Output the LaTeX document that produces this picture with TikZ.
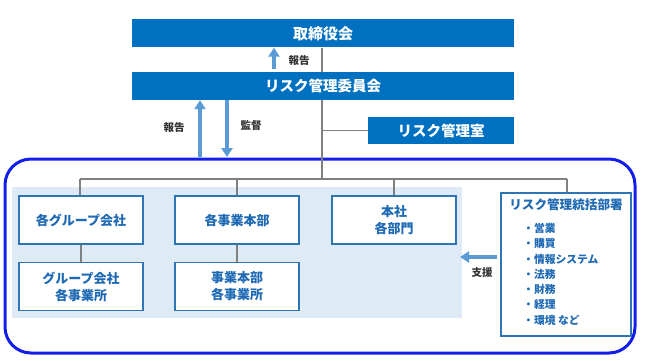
\documentclass[tikz,border=0pt]{standalone}
\usepackage{fontspec}
\setmainfont{Noto Sans CJK JP}
\usetikzlibrary{arrows.meta}
\definecolor{dblue}{RGB}{0,112,192}
\definecolor{bblue}{RGB}{46,117,182}
\definecolor{tblue}{RGB}{31,106,180}
\definecolor{ablue}{RGB}{91,155,213}
\definecolor{lgray}{RGB}{128,128,128}
\definecolor{panel}{RGB}{222,234,246}
\definecolor{frame}{RGB}{20,30,235}
\begin{document}
\begin{tikzpicture}[x=1pt,y=-1pt,
  darkbox/.style={fill=dblue, text=white, font=\bfseries\fontsize{14.5}{17}\selectfont, minimum height=28pt, inner sep=0pt},
  whitebox/.style={draw=bblue, line width=1.4pt, fill=white, text=tblue, font=\bfseries\fontsize{13}{17}\selectfont, align=center, inner sep=0pt, minimum width=124pt, minimum height=48pt},
  gline/.style={draw=lgray, line width=1.2pt},
  barrow/.style={draw=ablue, line width=3.4pt, -{Triangle[length=9pt,width=11pt]}},
  lbl/.style={font=\bfseries\fontsize{10.5}{12}\selectfont, text=black!80, inner sep=0pt}]
\useasboundingbox (0,0) rectangle (645,361);
% frame and panel
\draw[frame, line width=3pt, rounded corners=26pt] (5,159) rectangle (635,353);
\fill[panel] (12,187) rectangle (462,318);
% top boxes
\node[darkbox, minimum width=382pt, font=\bfseries\fontsize{15}{18}\selectfont] (board) at (323,33.5) {取締役会};
\node[darkbox, minimum width=382pt] (committee) at (323,86) {リスク管理委員会};
\node[darkbox, minimum width=146pt, minimum height=27pt] (office) at (441,130.5) {リスク管理室};
% tree lines
\coordinate (hub) at (322,179);
\coordinate (hl) at (80,179);
\coordinate (hr) at (567,179);
\draw[gline] (board.south -| hub) -- (committee.north -| hub);
\draw[gline] (committee.south -| hub) -- (hub);
\draw[gline] (office.west -| hub) -- (office.west);
\draw[gline] (hl) -- (hr);
% lower boxes
\node[whitebox] (grp) at (81,220) {各グループ会社};
\node[whitebox] (grpsub) at (81,286.5) {グループ会社\\各事業所};
\node[whitebox] (div) at (237,220) {各事業本部};
\node[whitebox] (divsub) at (237,286.5) {事業本部\\各事業所};
\node[whitebox] (hq) at (394,220) {本社\\各部門};
\node[whitebox, minimum width=130pt, minimum height=143pt] (rm) at (566,264.5) {};
\node[text=tblue, font=\bfseries\fontsize{12.6}{15}\selectfont, inner sep=0pt] (rmtitle) at (566,205) {リスク管理統括部署};
\node[text=tblue, font=\bfseries\fontsize{10.8}{15.3}\selectfont, align=left, anchor=north west, inner sep=0pt] (rmlist) at (523,223) {・営業\\・購買\\・情報システム\\・法務\\・財務\\・経理\\・環境 など};
\draw[gline] (hl) -- (grp.north -| hl);
\draw[gline] (div.north |- hl) -- (div.north);
\draw[gline] (hq.north |- hl) -- (hq.north);
\draw[gline] (hr) -- (rm.north -| hr);
\draw[gline] (grp) -- (grpsub);
\draw[gline] (div) -- (divsub);
% arrows
\coordinate (a1s) at (274,69);
\draw[barrow] (a1s) -- (board.south -| a1s);
\node[lbl] (l1) at (299,61) {報告};
\coordinate (a2s) at (200,157);
\draw[barrow] (a2s) -- (committee.south -| a2s);
\node[lbl] (l2) at (174,128) {報告};
\coordinate (a3e) at (227,157);
\draw[barrow] (committee.south -| a3e) -- (a3e);
\node[lbl] (l3) at (251,126) {監督};
\coordinate (a4e) at (460,257);
\coordinate (a4s) at (497,257);
\draw[barrow] (a4s) -- (a4e);
\node[lbl] (l4) at (482,273) {支援};
\end{tikzpicture}
\end{document}
